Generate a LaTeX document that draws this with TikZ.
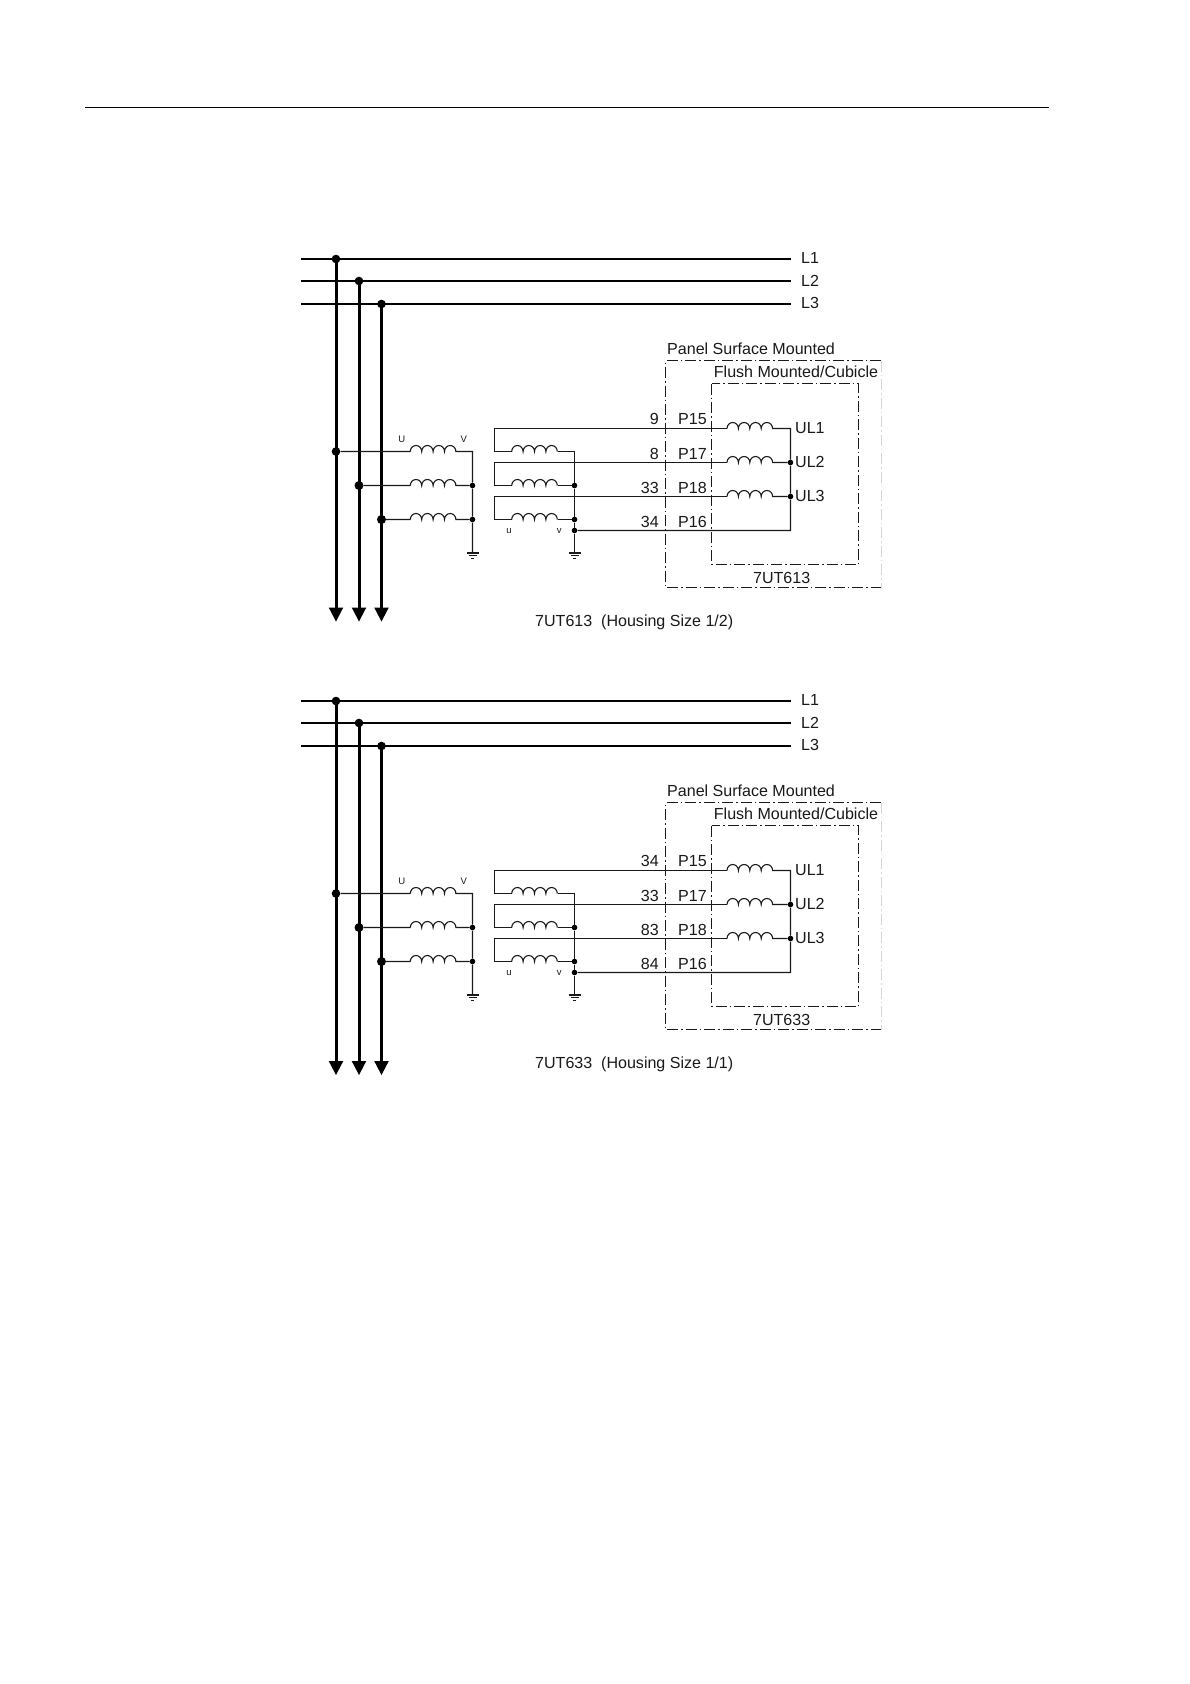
\documentclass[tikz,border=0pt]{standalone}
\usepackage{fontspec}
\setmainfont{Liberation Sans}
\definecolor{ink}{HTML}{1A1A1A}
\definecolor{faint}{HTML}{D6D6D6}
\tikzset{
  x=1pt,y=-1pt,
  busline/.style={line width=2.2pt,draw=black},
  feeder/.style={line width=3pt,draw=black},
  wire/.style={line width=1.1pt,draw=ink},
  boxline/.style={line width=1pt,draw=ink,dash pattern=on 11pt off 3pt on 1.5pt off 3pt},
  fadedbox/.style={boxline,draw=faint},
  bigdot/.style={circle,fill=black,inner sep=0pt,minimum size=8.6pt},
  smalldot/.style={circle,fill=black,inner sep=0pt,minimum size=5.6pt},
  lab/.style={inner sep=0pt,font=\fontsize{16.05pt}{18pt}\selectfont,text=ink},
  tiny/.style={inner sep=0pt,font=\fontsize{9.5pt}{10pt}\selectfont,text=ink},
  tip/.style={fill=black,draw=none}
}
\newcommand{\coilpath}[1]{%
  (#1) arc[start angle=180,end angle=0,x radius=5.7pt,y radius=6pt]
  arc[start angle=180,end angle=0,x radius=5.7pt,y radius=6pt]
  arc[start angle=180,end angle=0,x radius=5.7pt,y radius=6pt]
  arc[start angle=180,end angle=0,x radius=5.7pt,y radius=6pt]}
\newcommand{\groundmark}[1]{%
  \draw[wire] ([xshift=-6pt]#1) -- ([xshift=6pt]#1);
  \draw[wire] ([xshift=-4pt,yshift=-2.4pt]#1) -- ([xshift=4pt,yshift=-2.4pt]#1);
  \draw[wire] ([xshift=-1.6pt,yshift=-5.2pt]#1) -- ([xshift=1.6pt,yshift=-5.2pt]#1);}
% #1 vertical offset, #2 device, #3 housing, #4-#7 terminal numbers, #8 arrow tip y
\newcommand{\onesystem}[8]{%
\begin{scope}[yshift=-#1pt]
  % busbars
  \draw[busline] (301,259) coordinate (busA) -- (790.5,259) coordinate (busAe);
  \draw[busline] (301,281) coordinate (busB) -- (790.5,281) coordinate (busBe);
  \draw[busline] (301,304) coordinate (busC) -- (790.5,304) coordinate (busCe);
  \node[lab,anchor=west] (nameA) at (801,258) {L1};
  \node[lab,anchor=west] (nameB) at (801,280.5) {L2};
  \node[lab,anchor=west] (nameC) at (801,303) {L3};
  % feeders
  \node[bigdot] (topA) at (336,259) {};
  \node[bigdot] (topB) at (359,281) {};
  \node[bigdot] (topC) at (381.5,304) {};
  \coordinate (endA) at (336,#8-6);
  \coordinate (endB) at (359,#8-6);
  \coordinate (endC) at (381.5,#8-6);
  \draw[feeder] (topA.center) -- (endA);
  \draw[feeder] (topB.center) -- (endB);
  \draw[feeder] (topC.center) -- (endC);
  \fill[tip] (328.7,#8-14) -- (343.3,#8-14) -- (336,#8) -- cycle;
  \fill[tip] (351.7,#8-14) -- (366.3,#8-14) -- (359,#8) -- cycle;
  \fill[tip] (374.2,#8-14) -- (388.8,#8-14) -- (381.5,#8) -- cycle;
  % primary side
  \node[bigdot] (priA) at (336,451.5) {};
  \node[bigdot,minimum size=9pt] (priB) at (359,485.5) {};
  \node[bigdot,minimum size=9pt] (priC) at (381.5,519.5) {};
  \coordinate (cpA) at (410.3,451.5);
  \coordinate (cpB) at (410.3,485.5);
  \coordinate (cpC) at (410.3,519.5);
  \coordinate (starP) at (472.5,451.5);
  \node[smalldot] (starPb) at (472.5,485.5) {};
  \node[smalldot] (starPc) at (472.5,519.5) {};
  \coordinate (gndP) at (472.5,553);
  \draw[wire] (priA) -- (cpA) \coilpath{cpA} -- (starP) -- (starPb) -- (starPc) -- (gndP);
  \draw[wire] (priB) -- (cpB) \coilpath{cpB} -- (starPb);
  \draw[wire] (priC) -- (cpC) \coilpath{cpC} -- (starPc);
  \groundmark{gndP}
  \node[tiny] (lU) at (401.7,439.3) {U};
  \node[tiny] (lV) at (463.7,439.3) {V};
  % secondary side
  \coordinate (csA) at (511.7,451.5);
  \coordinate (csB) at (511.7,485.5);
  \coordinate (csC) at (511.7,519.5);
  \coordinate (starS) at (574.5,451.5);
  \node[smalldot] (starSb) at (574.5,485.5) {};
  \node[smalldot] (starSc) at (574.5,519.5) {};
  \node[smalldot] (starSd) at (574.5,530.5) {};
  \coordinate (gndS) at (574.5,553);
  \coordinate (loopAb) at (494.5,451.5);
  \coordinate (loopAt) at (494.5,428.5);
  \coordinate (loopBb) at (494.5,485.5);
  \coordinate (loopBt) at (494.5,462.5);
  \coordinate (loopCb) at (494.5,519.5);
  \coordinate (loopCt) at (494.5,496.5);
  \draw[wire] (starS) -- ++(-17,0);
  \draw[wire] (csA) \coilpath{csA};
  \draw[wire] (csA) -- (loopAb) -- (loopAt) -- (727,428.5) coordinate (crA);
  \draw[wire] (starSb) -- ++(-17,0);
  \draw[wire] (csB) \coilpath{csB};
  \draw[wire] (csB) -- (loopBb) -- (loopBt) -- (727,462.5) coordinate (crB);
  \draw[wire] (starSc) -- ++(-17,0);
  \draw[wire] (csC) \coilpath{csC};
  \draw[wire] (csC) -- (loopCb) -- (loopCt) -- (727,496.5) coordinate (crC);
  \draw[wire] (starS) -- (starSb) -- (starSc) -- (starSd) -- (gndS);
  \groundmark{gndS}
  \node[tiny] (lu) at (509,530.7) {u};
  \node[tiny] (lv) at (559.3,530.7) {v};
  % relay
  \node[smalldot] (ulB) at (790.5,462.5) {};
  \node[smalldot] (ulC) at (790.5,496.5) {};
  \coordinate (ulA) at (790.5,428.5);
  \coordinate (ulD) at (790.5,530.5);
  \draw[wire] (crA) \coilpath{crA} -- (ulA) -- (ulB) -- (ulC) -- (ulD) -- (starSd);
  \draw[wire] (crB) \coilpath{crB} -- (ulB);
  \draw[wire] (crC) \coilpath{crC} -- (ulC);
  \node[lab,anchor=west] (tA) at (795,428) {UL1};
  \node[lab,anchor=west] (tB) at (795,462) {UL2};
  \node[lab,anchor=west] (tC) at (795,496) {UL3};
  \foreach \n/\yy/\num/\pp in {a/419/#4/P15,b/453.5/#5/P17,c/488/#6/P18,d/522/#7/P16}{
    \node[lab,anchor=east] (num\n) at (659,\yy) {\num};
    \node[lab,anchor=west] (pin\n) at (678,\yy) {\pp};
  }
  % housings
  \draw[fadedbox] (881,360.5) -- (881,587.5);
  \draw[boxline] (881,360.5) coordinate (outNE) -- (665.5,360.5) coordinate (outNW) -- (665.5,587.5) coordinate (outSW) -- (881,587.5) coordinate (outSE);
  \draw[boxline] (711.5,383.5) rectangle (858.5,564.5);
  \node[lab,anchor=west] (panel) at (667,349) {Panel Surface Mounted};
  \node[lab,anchor=west] (flush) at (713.7,371.3) {Flush Mounted/Cubicle};
  \node[lab] (dev) at (781.7,578) {#2};
  \node[lab,anchor=west] (cap) at (535,622.2) {#2 \ (Housing Size #3)};
\end{scope}}
\begin{document}
\begin{tikzpicture}
  \useasboundingbox (0,0) rectangle (1190,1684);
  \fill[white] (0,0) rectangle (1190,1684);
  \draw[line width=1.2pt,draw=black] (85,107.5) coordinate (ruleL) -- (1048.5,107.5) coordinate (ruleR);
  \onesystem{0}{7UT613}{1/2}{9}{8}{33}{34}{621.5}
  \onesystem{442}{7UT633}{1/1}{34}{33}{83}{84}{633}
\end{tikzpicture}
\end{document}
